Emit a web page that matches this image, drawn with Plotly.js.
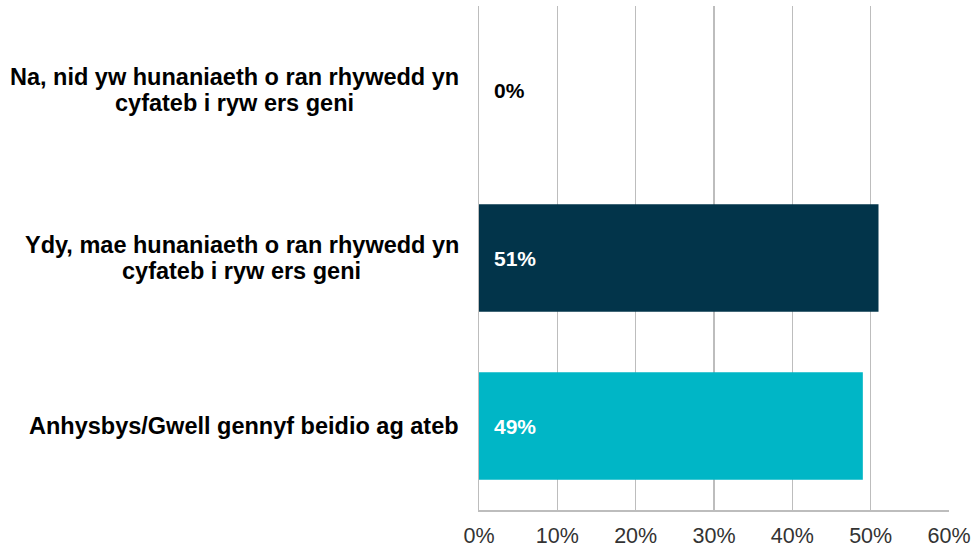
<!DOCTYPE html>
<html>
<head>
<meta charset="utf-8">
<script src="https://cdn.plot.ly/plotly-3.0.1.min.js"></script>
<style>html,body{margin:0;padding:0;background:#fff;}</style>
</head>
<body>
<div id="chart" style="width:975px;height:550px;"></div>
<script>
var categories = [
  "Na, nid yw hunaniaeth o ran rhywedd yn<br>cyfateb i ryw ers geni",
  "Ydy, mae hunaniaeth o ran rhywedd yn<br>cyfateb i ryw ers geni",
  "Anhysbys/Gwell gennyf beidio ag ateb"
];
var values = [0, 51, 49];
var barColors = ["#02344A", "#02344A", "#00B6C6"];
var tickVals = [0, 10, 20, 30, 40, 50, 60];
var tickText = ["0%", "10%", "20%", "30%", "40%", "50%", "60%"];

var FONT = "Liberation Sans, Arial, sans-serif";
var catSize = 23.5;
var ctx = document.createElement("canvas").getContext("2d");
ctx.font = "bold " + catSize + "px 'Liberation Sans', Arial, sans-serif";

var trace = {
  type: "bar",
  orientation: "h",
  x: values,
  y: categories,
  marker: {color: barColors, line: {width: 0}},
  hoverinfo: "none"
};

var annotations = [];
categories.forEach(function (c, i) {
  var lines = c.split("<br>");
  var n = lines.length;
  var maxW = Math.max.apply(null, lines.map(function (l) { return ctx.measureText(l).width; }));
  var rightEdge = -20;
  lines.forEach(function (ln, j) {
    annotations.push({
      xref: "paper", yref: "y", x: 0, y: c,
      xanchor: "center", yanchor: "middle",
      xshift: rightEdge - maxW / 2, yshift: ((n - 1) / 2 - j) * 26,
      text: ln, showarrow: false,
      font: {family: FONT, size: catSize, color: "#000", weight: "bold"}
    });
  });
  annotations.push({
    xref: "x", yref: "y", x: 0, y: c,
    xanchor: "left", yanchor: "middle", xshift: 13,
    text: "<b>" + values[i] + "%</b>", showarrow: false,
    font: {family: FONT, size: 21, color: values[i] > 0 ? "#FFFFFF" : "#000000"}
  });
});

var layout = {
  width: 975, height: 550,
  margin: {l: 479, r: 26, t: 6, b: 40},
  paper_bgcolor: "#fff", plot_bgcolor: "#fff",
  showlegend: false,
  bargap: 0.36,
  xaxis: {
    range: [0, 60], tickvals: tickVals, ticktext: tickText,
    showgrid: true, gridcolor: "#BDBDBD", gridwidth: 1.5,
    zeroline: false, showline: true, linecolor: "#BDBDBD", linewidth: 1.5,
    mirror: false, ticks: "", ticklen: 0, ticklabelstandoff: 6,
    tickfont: {family: FONT, size: 21.5, color: "#333"},
    fixedrange: true
  },
  yaxis: {
    autorange: "reversed", showticklabels: false, showgrid: false,
    zeroline: false, showline: true, linecolor: "#BDBDBD", linewidth: 1.5,
    ticks: "", fixedrange: true
  },
  annotations: annotations
};

Plotly.newPlot("chart", [trace], layout, {displayModeBar: false, staticPlot: true});
</script>
</body>
</html>
